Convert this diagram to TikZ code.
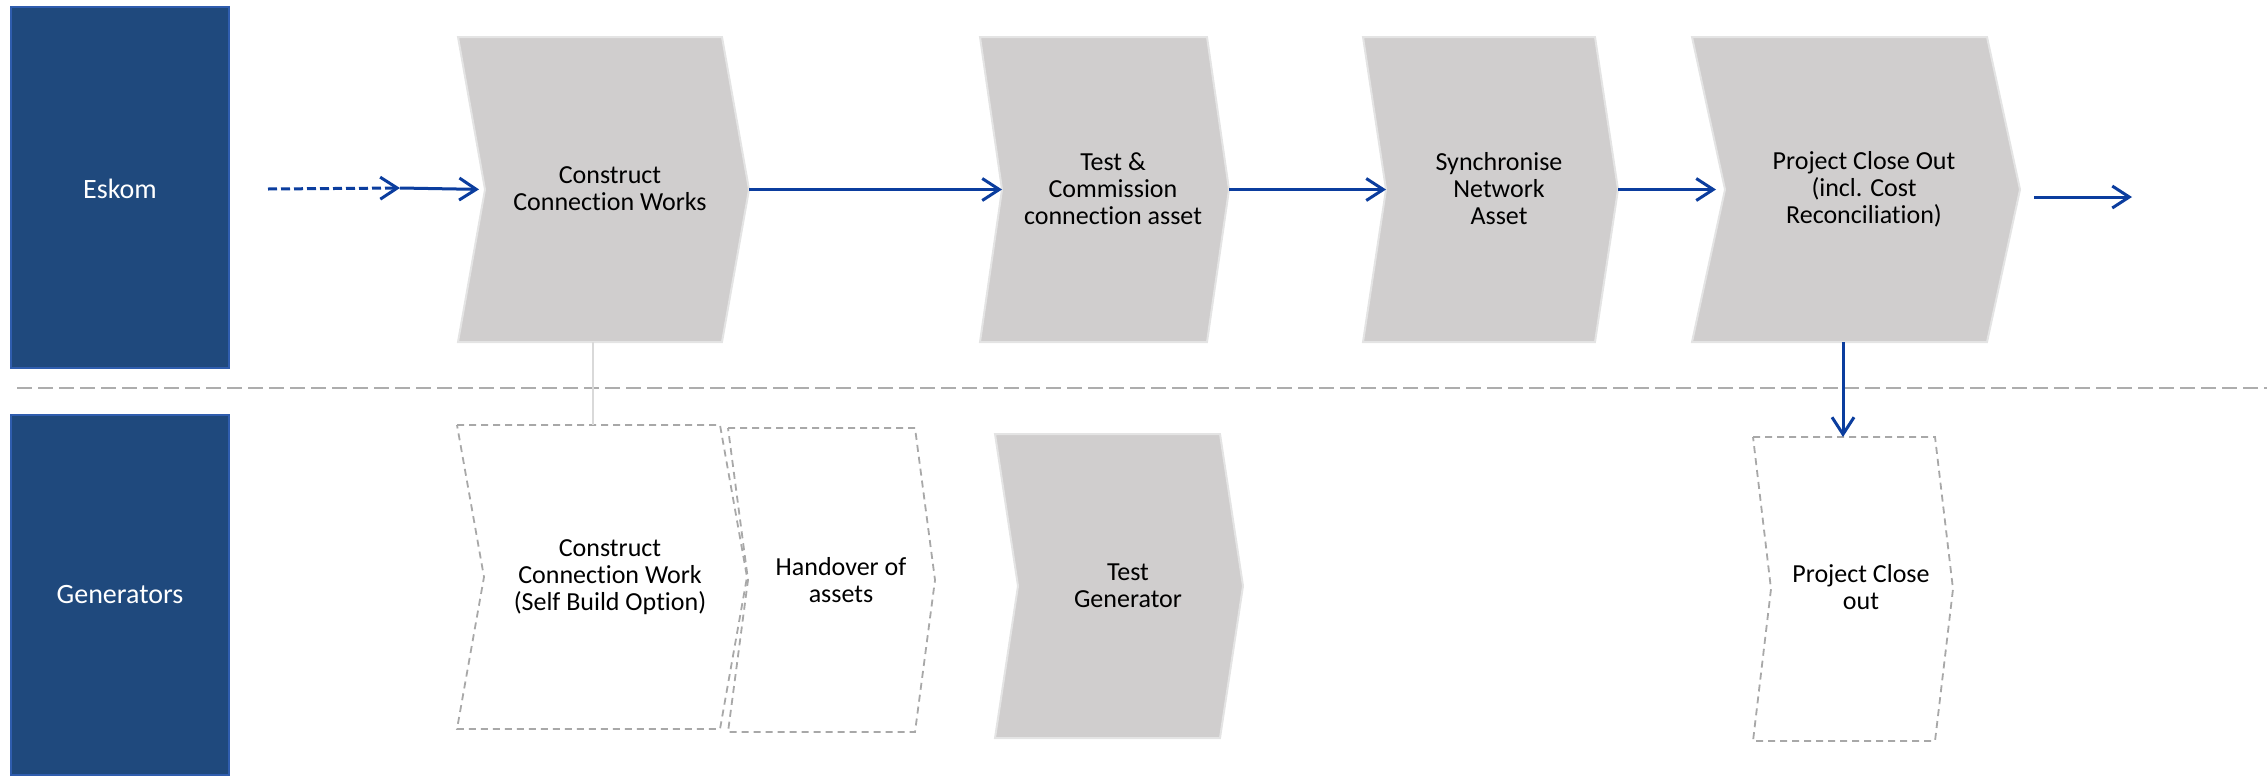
\documentclass[tikz,border=0pt]{standalone}
\usepackage{fontspec}
\setmainfont{Carlito}[Ligatures={NoCommon,NoContextual}]
\usetikzlibrary{arrows.meta}
\definecolor{eskfill}{HTML}{1F497D}
\definecolor{eskline}{HTML}{2F5DAE}
\definecolor{chevfill}{HTML}{D0CECE}
\definecolor{chevline}{HTML}{E4E4E4}
\definecolor{flowblue}{HTML}{0B3D9E}
\definecolor{sepgray}{HTML}{ADADAD}
\definecolor{dashgray}{HTML}{A8A8A8}
\definecolor{linkgray}{HTML}{D9D9D9}
\newcommand{\mychev}[7]{%
  \draw[#1] (#3,#6) -- (#4,#6) -- ({#4+#5},{(#6+#7)/2}) -- (#4,#7) -- (#3,#7) -- ({#3+#5},{(#6+#7)/2}) -- cycle;
  \coordinate (#2-tip) at ({#4+#5},{(#6+#7)/2});
  \coordinate (#2-notch) at ({#3+#5},{(#6+#7)/2});
}
\begin{document}
\begin{tikzpicture}[x=1pt,y=-1pt,
  lanebox/.style={fill=eskfill,draw=eskline,line width=2pt},
  lanelabel/.style={text=white,font=\fontsize{28}{30}\selectfont},
  solidchev/.style={fill=chevfill,draw=chevline,line width=2pt,line join=miter},
  dashchev/.style={draw=dashgray,line width=1.8pt,dash pattern=on 7pt off 5pt},
  chevtext/.style={align=center,font=\fontsize{26}{27}\selectfont,inner sep=0pt},
  flow/.style={draw=flowblue,line width=3pt,-{Straight Barb[length=17pt,width=22pt,line width=3pt]}},
  sep/.style={draw=sepgray,line width=2.5pt,dash pattern=on 15pt off 6pt}
]
\useasboundingbox (0,0) rectangle (2267,777);
% lanes
\draw[lanebox] (11,7) rectangle (229,368);
\node[lanelabel] (eskom) at (120,189) {Eskom};
\draw[lanebox] (11,415) rectangle (229,775);
\node[lanelabel] (gens) at (120,595) {Generators};
% separator
\draw[sep] (17,388) -- (2267,388);
% top chevrons
\mychev{solidchev}{c1}{458}{722}{27}{37}{342}
\mychev{solidchev}{c2}{980}{1207}{22}{37}{342}
\mychev{solidchev}{c3}{1363}{1595}{23}{37}{342}
\mychev{solidchev}{c4}{1692}{1987}{33}{37}{342}
\node[chevtext] (t1) at (610,189) {Construct\\Connection Works};
\node[chevtext] (t2) at (1113,189) {Test \&\\Commission\\connection asset};
\node[chevtext] (t3) at (1499,189) {Synchronise\\Network\\Asset};
\node[chevtext] (t4) at (1864,189) {Project Close Out\\(incl. Cost\\Reconciliation)};
% bottom chevrons
\mychev{dashchev}{b1}{457}{720}{27}{425}{729}
\mychev{dashchev}{b2}{728}{915}{20}{428}{732}
\mychev{solidchev}{b3}{995}{1220}{23}{434}{738}
\mychev{dashchev}{b4}{1753}{1935}{18}{437}{741}
\node[chevtext] (s1) at (610,577) {Construct\\Connection Work\\(Self Build Option)};
\node[chevtext] (s2) at (841,580) {Handover of\\assets};
\node[chevtext] (s3) at (1128,586) {Test\\Generator};
\node[chevtext] (s4) at (1861,587) {Project Close\\out};
% connectors
\coordinate (start) at (268,189);
\coordinate (mid) at (400,188);
\coordinate (c1s) at (593,342);
\coordinate (b1n) at (593,425);
\coordinate (c4s) at (1843,342);
\coordinate (b4n) at (1843,437);
\coordinate (out1) at (2034,197);
\coordinate (out2) at (2132,197);
\draw[flow,dash pattern=on 9pt off 4pt] (start) -- (mid);
\draw[flow,shorten >=6pt] (mid) -- (c1-notch);
\draw[flow] (c1-tip) -- (c2-notch);
\draw[flow] (c2-tip) -- (c3-notch);
\draw[flow,shorten >=9pt] (c3-tip) -- (c4-notch);
\draw[flow] (out1) -- (out2);
\draw[flow] (c4s) -- (b4n);
\draw[draw=linkgray,line width=1.5pt] (c1s) -- (b1n);
\end{tikzpicture}
\end{document}
